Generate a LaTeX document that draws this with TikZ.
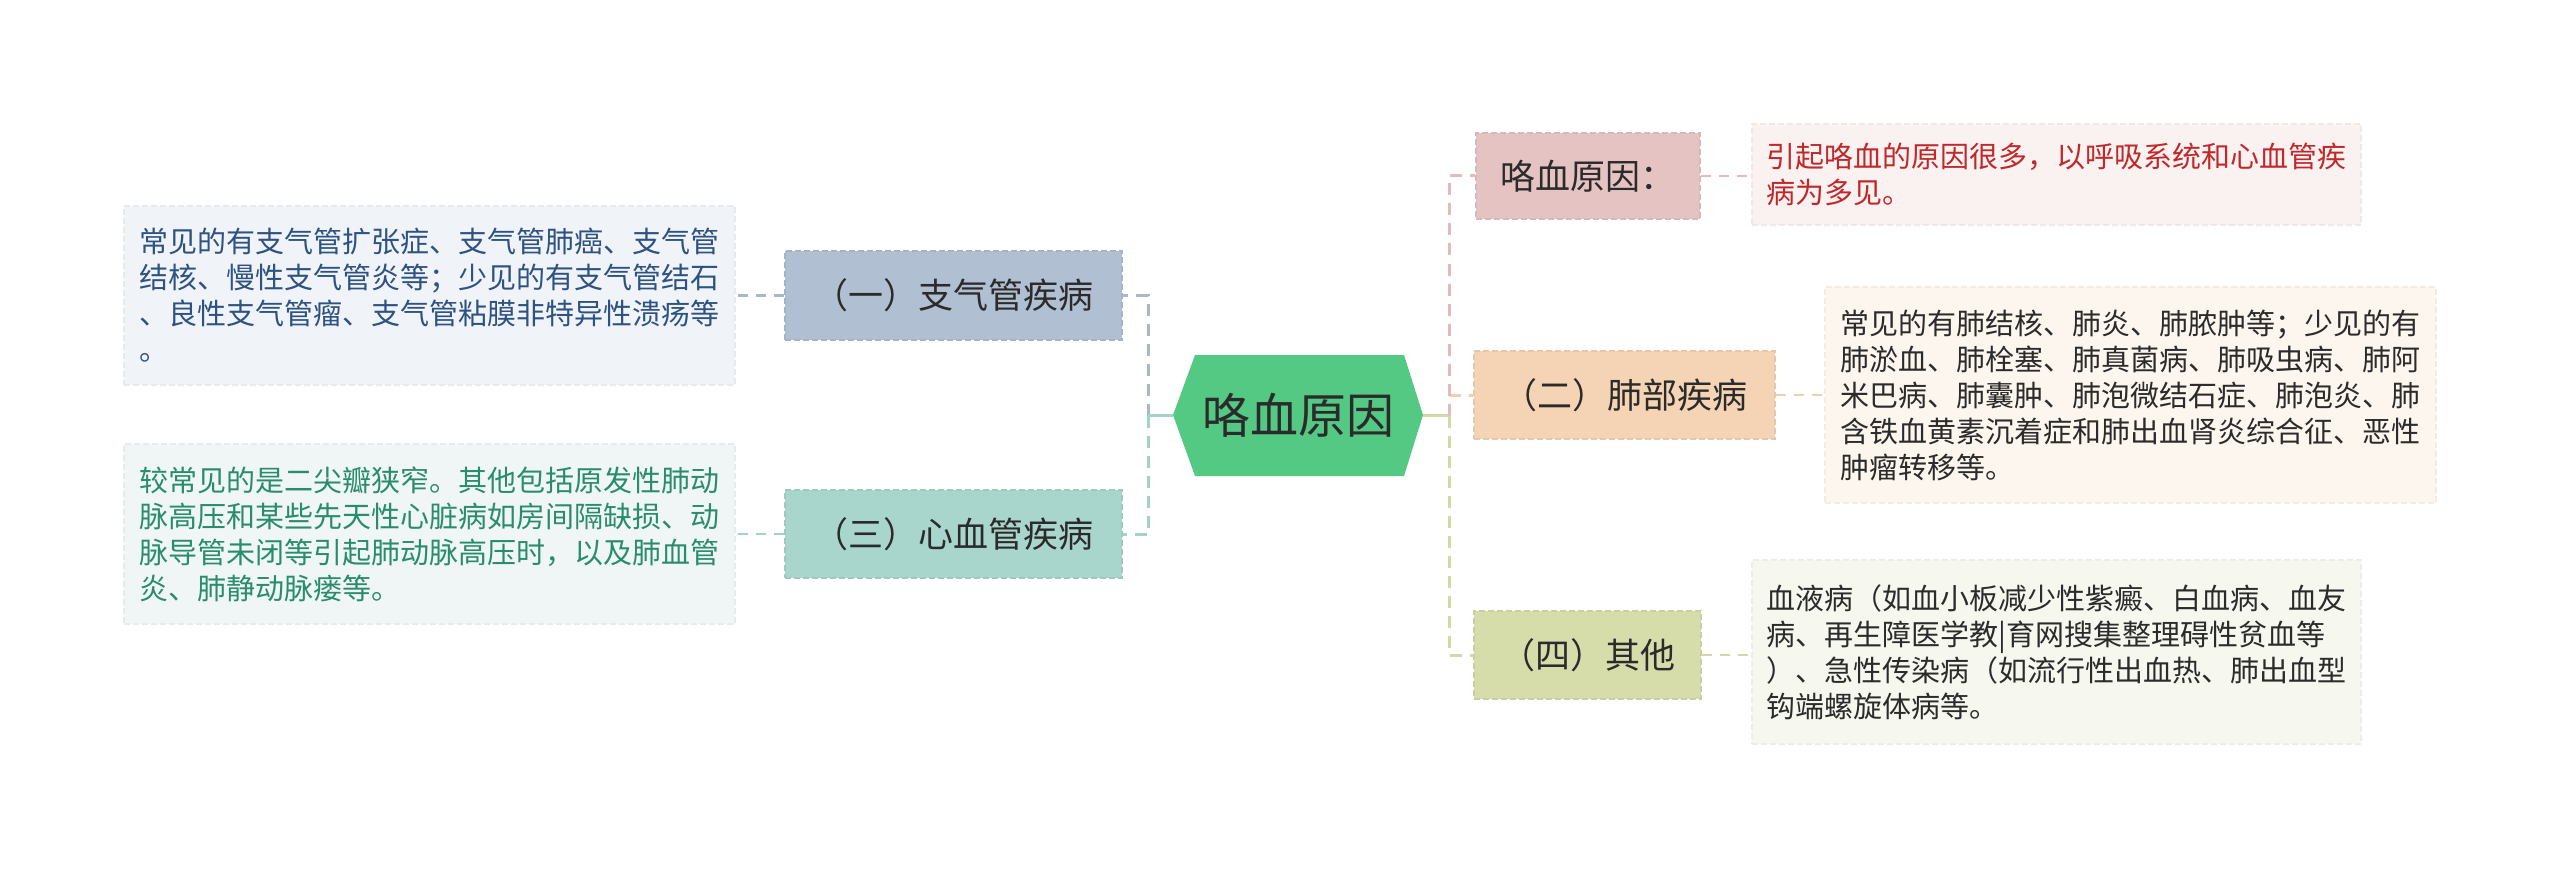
\documentclass[tikz,border=0pt]{standalone}
\usepackage{fontspec}
\setmainfont{Noto Sans CJK SC}
\begin{document}
\begin{tikzpicture}[x=1pt,y=-1pt,
  lvl/.style={rectangle,inner sep=0pt,text=txtdark,font=\fontsize{35}{42}\selectfont,line width=1.5pt,dash pattern=on 6pt off 3pt},
  detail/.style={rectangle,inner sep=0pt,align=left,font=\fontsize{29}{36}\selectfont,line width=1.5pt,dash pattern=on 6pt off 3pt},
  trunk/.style={line width=3pt,dash pattern=on 12pt off 8pt},
  leaf/.style={line width=2.5pt,dash pattern=on 10pt off 8pt},
  stub/.style={line width=3pt}]
\definecolor{txtdark}{HTML}{2B2B2B}
\definecolor{hexg}{HTML}{53C983}
\definecolor{blueF}{HTML}{B0BFD1}
\definecolor{blueD}{HTML}{F0F3F7}
\definecolor{blueT}{HTML}{2E5382}
\definecolor{blueL}{HTML}{A9B7C9}
\definecolor{tealF}{HTML}{A9D6CC}
\definecolor{tealD}{HTML}{EFF6F5}
\definecolor{tealT}{HTML}{2A8C6E}
\definecolor{tealL}{HTML}{A3D2C6}
\definecolor{pinkF}{HTML}{E6C3C3}
\definecolor{pinkD}{HTML}{FAF1F1}
\definecolor{pinkT}{HTML}{C0282A}
\definecolor{pinkL}{HTML}{E2BCBC}
\definecolor{peachF}{HTML}{F4D4B4}
\definecolor{peachD}{HTML}{FDF6EF}
\definecolor{peachL}{HTML}{F0CFAE}
\definecolor{oliveF}{HTML}{D7DCAB}
\definecolor{oliveD}{HTML}{F6F7EF}
\definecolor{oliveL}{HTML}{D3D9A6}
\useasboundingbox (0,0) rectangle (2560,869);
\fill[white] (0,0) rectangle (2560,869);

% central hexagon
\fill[hexg] (1173,415) -- (1195,355) -- (1404,355) -- (1423,415) -- (1404,476) -- (1195,476) -- cycle;
\node[inner sep=0pt,minimum width=250pt,minimum height=121pt,text=txtdark,font=\fontsize{48}{56}\selectfont] (c) at (1298,415.5) {咯血原因};

% level-1 nodes
\node[lvl,fill=blueF,draw=blueF!94!black,minimum width=337pt,minimum height=89pt] (b1) at (953.5,295.5) {（一）支气管疾病};
\node[lvl,fill=tealF,draw=tealF!94!black,minimum width=337pt,minimum height=88pt] (b3) at (953.5,534) {（三）心血管疾病};
\node[lvl,fill=pinkF,draw=pinkF!94!black,minimum width=224pt,minimum height=86pt] (r1) at (1588,176) {咯血原因：};
\node[lvl,fill=peachF,draw=peachF!94!black,minimum width=301pt,minimum height=88pt] (r2) at (1624.5,395) {（二）肺部疾病};
\node[lvl,fill=oliveF,draw=oliveF!94!black,minimum width=227pt,minimum height=88pt] (r4) at (1587.5,655) {（四）其他};

% detail nodes
\node[detail,fill=blueD,draw=blueD!96!black,text=blueT,minimum width=611pt,minimum height=179pt] (d1) at (429.5,295.5) {常见的有支气管扩张症、支气管肺癌、支气管\\结核、慢性支气管炎等；少见的有支气管结石\\、良性支气管瘤、支气管粘膜非特异性溃疡等\\。};
\node[detail,fill=tealD,draw=tealD!96!black,text=tealT,minimum width=611pt,minimum height=180pt] (d3) at (429.5,534) {较常见的是二尖瓣狭窄。其他包括原发性肺动\\脉高压和某些先天性心脏病如房间隔缺损、动\\脉导管未闭等引起肺动脉高压时，以及肺血管\\炎、肺静动脉瘘等。};
\node[detail,fill=pinkD,draw=pinkD!96!black,text=pinkT,minimum width=609pt,minimum height=101pt] (e1) at (2056.5,174.5) {引起咯血的原因很多，以呼吸系统和心血管疾\\病为多见。};
\node[detail,fill=peachD,draw=peachD!96!black,text=txtdark,minimum width=611pt,minimum height=216pt] (e2) at (2130.5,395) {常见的有肺结核、肺炎、肺脓肿等；少见的有\\肺淤血、肺栓塞、肺真菌病、肺吸虫病、肺阿\\米巴病、肺囊肿、肺泡微结石症、肺泡炎、肺\\含铁血黄素沉着症和肺出血肾炎综合征、恶性\\肿瘤转移等。};
\node[detail,fill=oliveD,draw=oliveD!96!black,text=txtdark,minimum width=609pt,minimum height=184pt] (e4) at (2056.5,652) {血液病（如血小板减少性紫癜、白血病、血友\\病、再生障医学教|育网搜集整理碍性贫血等\\）、急性传染病（如流行性出血热、肺出血型\\钩端螺旋体病等。};

% junction coordinates
\coordinate (jl) at (1148,415.5);
\coordinate (jr) at (1449,415.5);

% trunk connectors
\draw[trunk,draw=blueL] (jl) |- (b1.east);
\draw[trunk,draw=tealL] (jl) |- (b3.east);
\draw[stub,draw=tealL] (c.west) -- (jl);
\draw[trunk,draw=oliveL] (jr) |- (r4.west);
\draw[trunk,draw=peachL] (jr) |- (r2.west);
\draw[trunk,draw=pinkL] (jr) |- (r1.west);
\draw[stub,draw=oliveL] (c.east) -- (jr);

% leaf connectors
\draw[leaf,draw=blueL] (b1.west) -- (d1.east);
\draw[leaf,draw=tealL] (b3.west) -- (d3.east);
\draw[leaf,draw=pinkL] (r1.east) -- (e1.west |- r1.east);
\draw[leaf,draw=peachL] (r2.east) -- (e2.west);
\draw[leaf,draw=oliveL] (r4.east) -- (e4.west |- r4.east);
\end{tikzpicture}
\end{document}
